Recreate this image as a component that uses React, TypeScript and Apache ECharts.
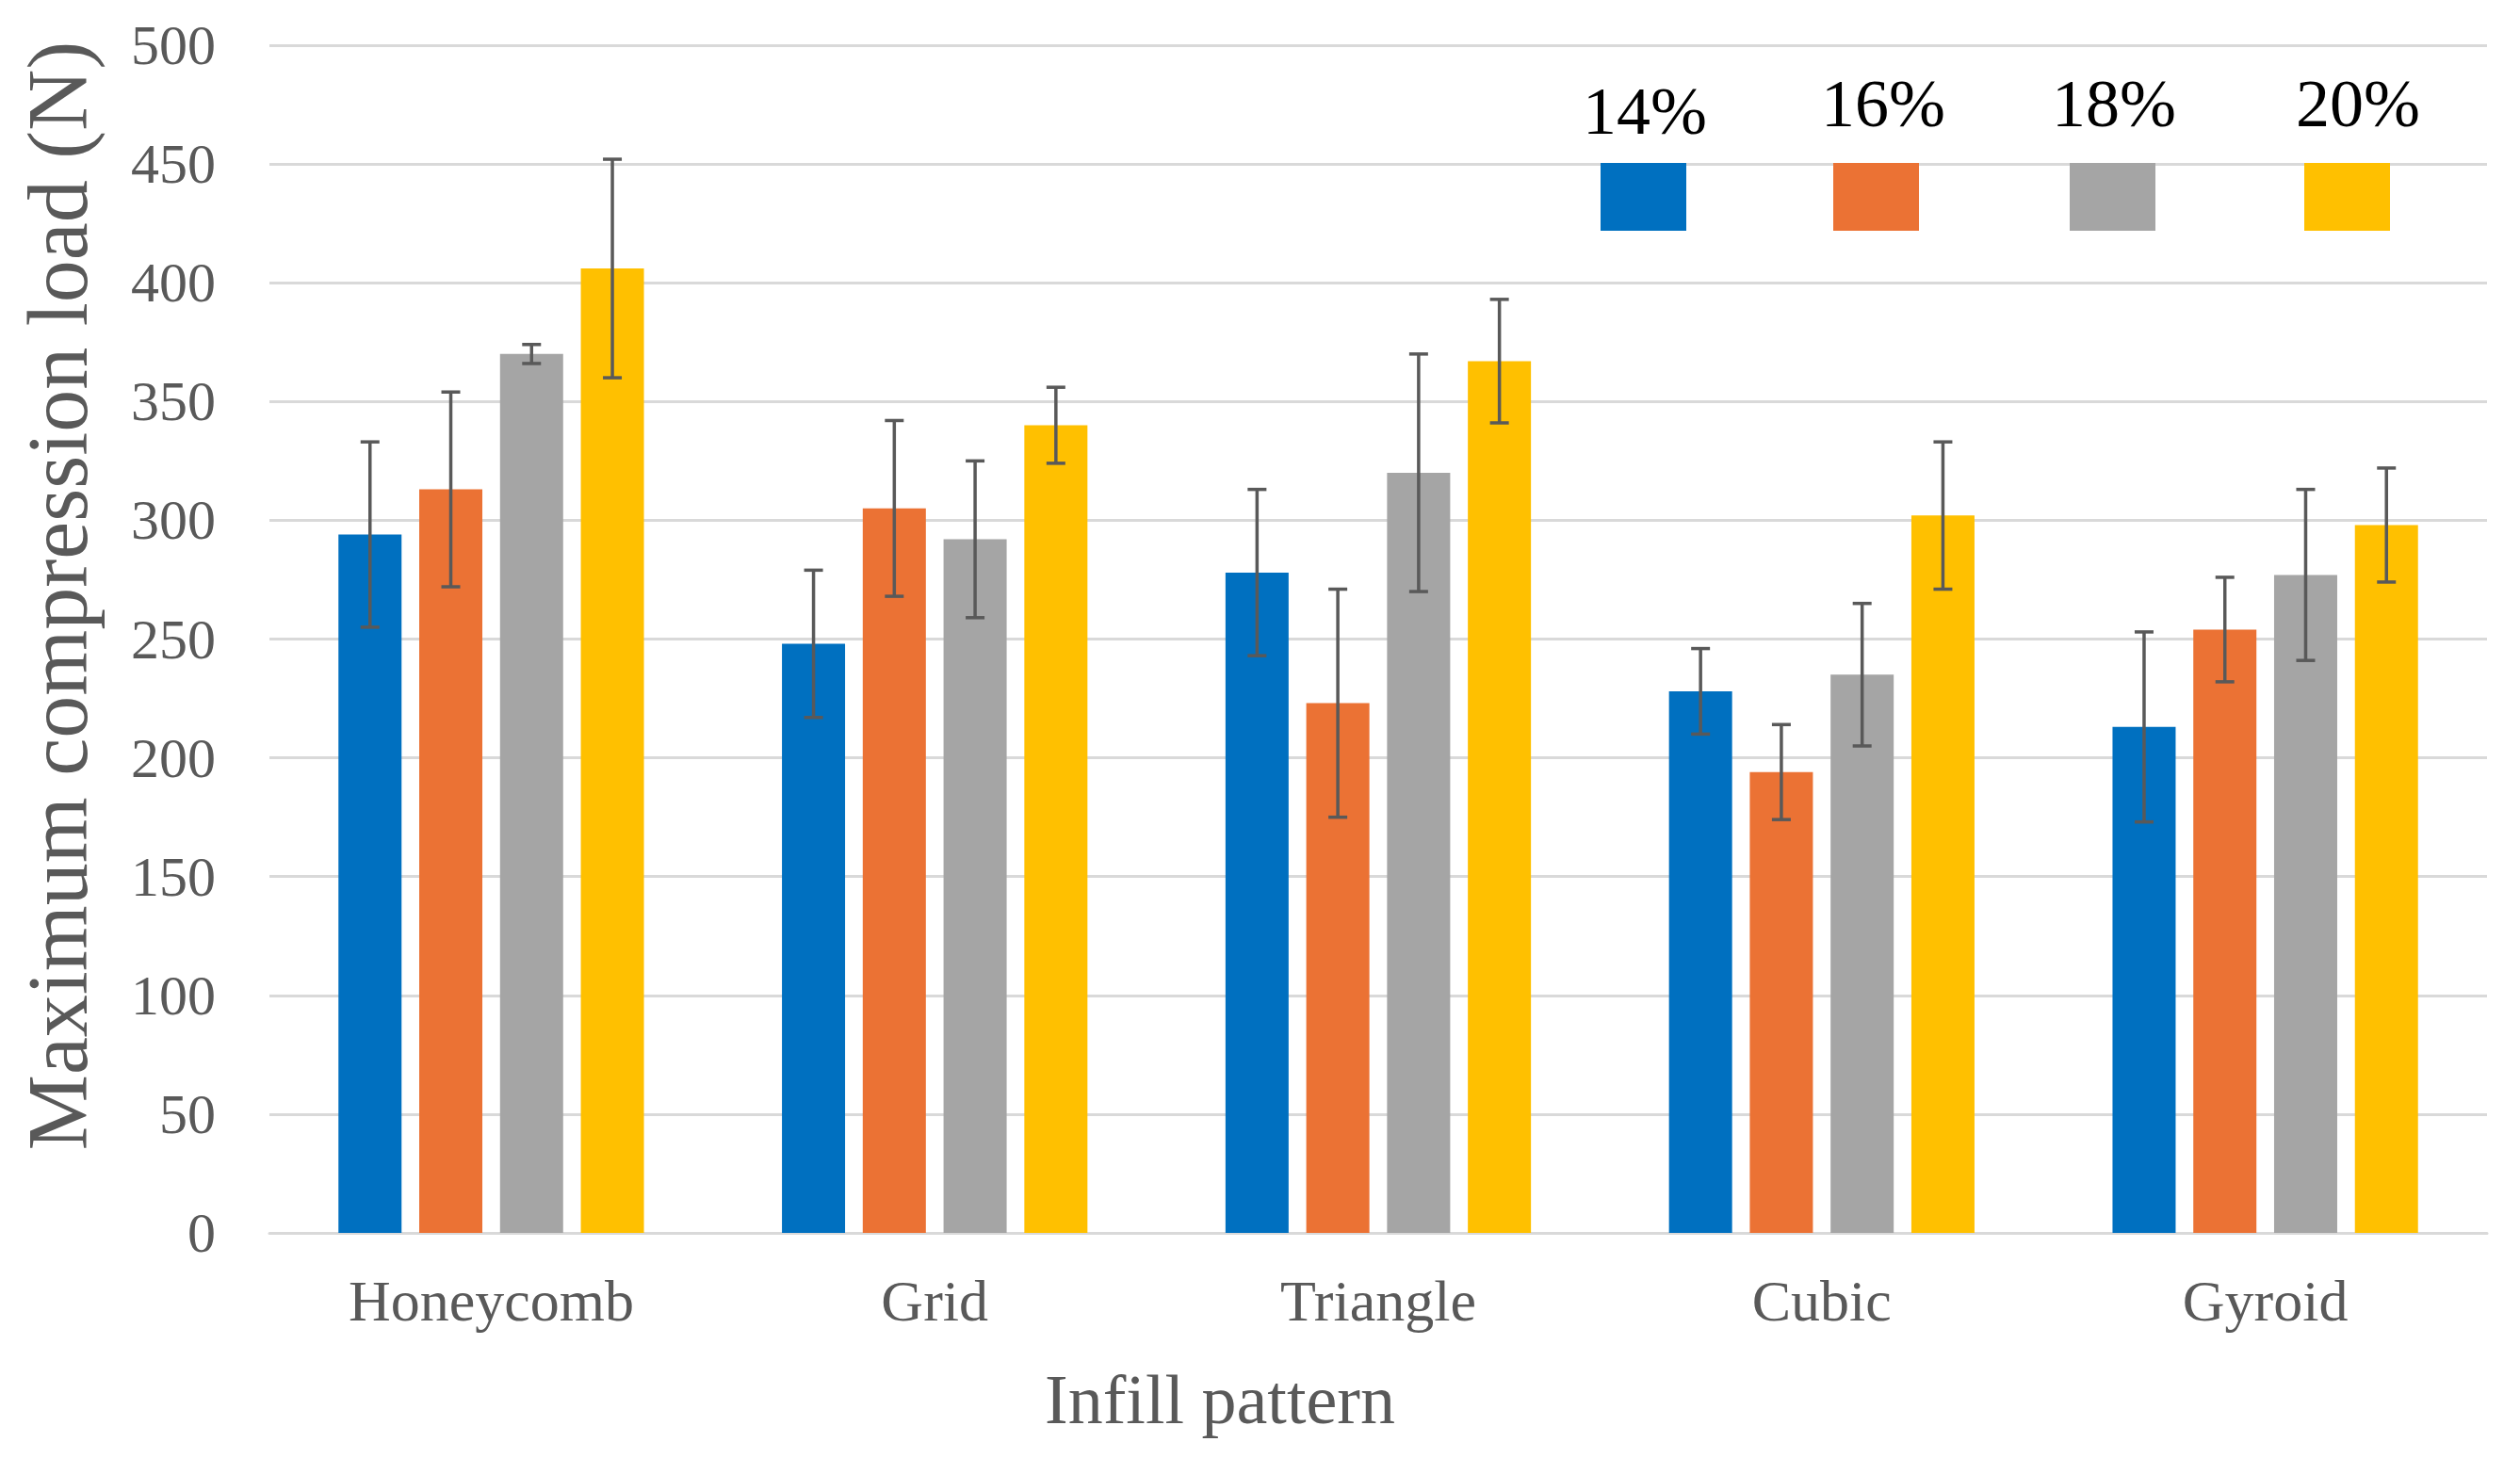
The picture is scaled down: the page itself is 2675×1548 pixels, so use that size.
import React, { useEffect, useRef } from "react";
import * as echarts from "echarts";

const categories = ["Honeycomb", "Grid", "Triangle", "Cubic", "Gyroid"];
const seriesNames = ["14%", "16%", "18%", "20%"];
const colors = ["#0070C0", "#EB7234", "#A5A5A5", "#FFC000"];

const means14 = [294, 248, 278, 228, 213];
const means16 = [313, 305, 223, 194, 254];
const means18 = [370, 292, 320, 235, 277];
const means20 = [406, 340, 367, 302, 298];

const err14 = [39, 31, 35, 18, 40];
const err16 = [41, 37, 48, 20, 22];
const err18 = [4, 33, 50, 30, 36];
const err20 = [46, 16, 26, 31, 24];

const yTicks = { min: 0, max: 500, interval: 50 };

const FONT = "Liberation Serif";
const BAR_W = 67;
const BAR_GAP = 0.28;

export default function App() {
  const ref = useRef<HTMLDivElement>(null);

  useEffect(() => {
    document.body.style.margin = "0";
    if (!ref.current) return;
    const chart = echarts.init(ref.current, null, { renderer: "svg" });

    const means = [means14, means16, means18, means20];
    const errs = [err14, err16, err18, err20];
    const step = BAR_W * (1 + BAR_GAP);
    const total = 4 * BAR_W + 3 * BAR_W * BAR_GAP;

    const barSeries = seriesNames.map((name, i) => ({
      name,
      type: "bar",
      barWidth: BAR_W,
      barGap: BAR_GAP * 100 + "%",
      itemStyle: { color: colors[i] },
      data: means[i],
      z: 2,
    }));

    const errSeries = seriesNames.map((name, i) => {
      const offset = -total / 2 + i * step + BAR_W / 2;
      return {
        name: name + " error",
        type: "custom",
        z: 10,
        data: categories.map((_, ci) => [ci, means[i][ci], errs[i][ci]]),
        renderItem: (params: any, api: any) => {
          const ci = api.value(0);
          const v = api.value(1);
          const e = api.value(2);
          const top = api.coord([ci, v + e]);
          const bot = api.coord([ci, v - e]);
          const x = top[0] + offset;
          const cap = 10;
          const style = { stroke: "#595959", lineWidth: 3.5 };
          return {
            type: "group",
            children: [
              { type: "line", shape: { x1: x, y1: top[1], x2: x, y2: bot[1] }, style },
              { type: "line", shape: { x1: x - cap, y1: top[1], x2: x + cap, y2: top[1] }, style },
              { type: "line", shape: { x1: x - cap, y1: bot[1], x2: x + cap, y2: bot[1] }, style },
            ],
          };
        },
      };
    });

    const legendRectX = [1744, 1991, 2242, 2491];
    const legendTextX = [1746, 1999, 2244, 2503];
    const legendTextY = [118, 110, 110, 110];
    const legendGraphics: any[] = [];
    seriesNames.forEach((name, i) => {
      legendGraphics.push({
        type: "rect",
        shape: { x: legendRectX[i] - 45, y: 173, width: 91, height: 72 },
        style: { fill: colors[i] },
        z: 20,
      });
      legendGraphics.push({
        type: "text",
        x: legendTextX[i],
        y: legendTextY[i],
        style: {
          text: name,
          font: `72px "${FONT}"`,
          fill: "#000000",
          align: "center",
          verticalAlign: "middle",
        },
        z: 20,
      });
    });

    chart.setOption({
      animation: false,
      backgroundColor: "#ffffff",
      grid: { left: 286, right: 35, top: 48, bottom: 239, containLabel: false },
      xAxis: {
        type: "category",
        data: categories,
        name: "Infill pattern",
        nameLocation: "middle",
        nameGap: 140,
        nameTextStyle: { fontFamily: FONT, fontSize: 74, color: "#595959", padding: [0, 336, 0, 0] },
        axisLine: { show: true, lineStyle: { color: "#D9D9D9", width: 3 } },
        axisTick: { show: false },
        axisLabel: { fontFamily: FONT, fontSize: 62, color: "#595959", margin: 41 },
      },
      yAxis: {
        type: "value",
        min: yTicks.min,
        max: yTicks.max,
        interval: yTicks.interval,
        name: "Maximum compression load (N)",
        nameLocation: "middle",
        nameGap: 180,
        nameTextStyle: { fontFamily: FONT, fontSize: 90, color: "#595959", padding: [0, 0, 0, 92] },
        axisLine: { show: false },
        axisTick: { show: false },
        axisLabel: { fontFamily: FONT, fontSize: 60, color: "#595959", margin: 57 },
        splitLine: { lineStyle: { color: "#D9D9D9", width: 3 } },
      },
      graphic: legendGraphics,
      series: [...barSeries, ...errSeries],
    });

    return () => chart.dispose();
  }, []);

  return <div ref={ref} style={{ width: 2675, height: 1548 }} />;
}
